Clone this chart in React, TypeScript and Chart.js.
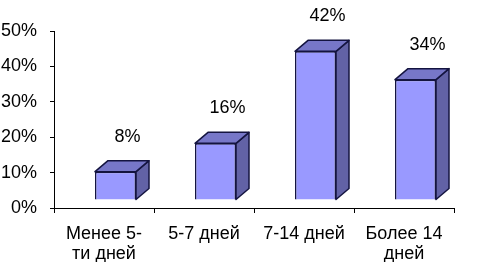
import React, { useEffect, useRef } from "react";
import { Chart, registerables } from "chart.js";

Chart.register(...registerables);

const categories: string[][] = [["Менее 5-", "ти дней"], ["5-7 дней"], ["7-14 дней"], ["Более 14", "дней"]];
const values: number[] = [8, 16, 42, 34];
const valueLabels: string[] = ["8%", "16%", "42%", "34%"];
const yTicks: number[] = [0, 10, 20, 30, 40, 50];

const FONT = "'Liberation Sans', Arial, sans-serif";
const FRONT = "#9999ff";
const TOP = "#7777c8";
const SIDE = "#6262a6";
const EDGE = "#141440";
const SHIFT_X = 11.5;
const SHIFT_Y = -8;
const DEPTH_X = 13;
const DEPTH_Y = 11;

const box3d = {
  id: "box3d",
  beforeDatasetsDraw(chart: any) {
    const ctx = chart.ctx;
    ctx.save();
    ctx.translate(SHIFT_X, SHIFT_Y);
    const meta = chart.getDatasetMeta(0);
    meta.data.forEach((el: any) => {
      const { x, y, base, width } = el.getProps(["x", "y", "base", "width"], true);
      const l = x - width / 2;
      const r = x + width / 2;
      ctx.lineWidth = 1.5;
      ctx.strokeStyle = EDGE;
      ctx.lineJoin = "round";
      // side
      ctx.beginPath();
      ctx.moveTo(r, y);
      ctx.lineTo(r + DEPTH_X, y - DEPTH_Y);
      ctx.lineTo(r + DEPTH_X, base - DEPTH_Y);
      ctx.lineTo(r, base);
      ctx.closePath();
      ctx.fillStyle = SIDE;
      ctx.fill();
      ctx.stroke();
      // top
      ctx.beginPath();
      ctx.moveTo(l, y);
      ctx.lineTo(l + DEPTH_X, y - DEPTH_Y);
      ctx.lineTo(r + DEPTH_X, y - DEPTH_Y);
      ctx.lineTo(r, y);
      ctx.closePath();
      ctx.fillStyle = TOP;
      ctx.fill();
      ctx.stroke();
    });
  },
  afterDatasetsDraw(chart: any) {
    const ctx = chart.ctx;
    ctx.restore();
    const meta = chart.getDatasetMeta(0);
    ctx.save();
    ctx.font = `18px ${FONT}`;
    ctx.fillStyle = "#000";
    ctx.textAlign = "center";
    ctx.textBaseline = "middle";
    meta.data.forEach((el: any, i: number) => {
      const { x, y } = el.getProps(["x", "y"], true);
      ctx.fillText(valueLabels[i], x + SHIFT_X + 12, y + SHIFT_Y - 35);
    });
    ctx.restore();
  },
};

export default function App() {
  const ref = useRef<HTMLCanvasElement>(null);
  useEffect(() => {
    if (!ref.current) return;
    const chart = new Chart(ref.current, {
      type: "bar",
      data: {
        labels: categories,
        datasets: [
          {
            data: values,
            backgroundColor: FRONT,
            borderColor: EDGE,
            borderWidth: 1.5,
            categoryPercentage: 1,
            barPercentage: 0.41,
            clip: false as any,
          },
        ],
      },
      options: {
        animation: false,
        responsive: false,
        maintainAspectRatio: false,
        layout: { padding: { top: 31, right: 41, bottom: 0, left: 0 } },
        plugins: { legend: { display: false }, tooltip: { enabled: false } },
        scales: {
          x: {
            offset: true,
            grid: { display: true, drawOnChartArea: false, drawTicks: true, tickLength: 5, offset: true, color: "#000" },
            border: { display: true, color: "#000", width: 1 },
            ticks: { color: "#000", font: { family: FONT, size: 18, lineHeight: 1.1 }, padding: 11, maxRotation: 0, autoSkip: false },
            afterFit: (s: any) => { s.height = 54; },
          },
          y: {
            min: 0,
            max: 50,
            afterBuildTicks: (s: any) => { s.ticks = yTicks.map((v) => ({ value: v })); },
            grid: { display: true, drawOnChartArea: false, drawTicks: true, tickLength: 4, color: "#000" },
            border: { display: true, color: "#000", width: 1 },
            ticks: { color: "#000", font: { family: FONT, size: 18 }, padding: 13, callback: (v: any) => `${v}%` },
            afterFit: (s: any) => { s.width = 54; },
          },
        },
      },
      plugins: [box3d],
    });
    return () => chart.destroy();
  }, []);
  return (
    <div style={{ position: "fixed", left: 0, top: 0, width: 495, height: 262, background: "#fff" }}>
      <canvas ref={ref} width={495} height={262} style={{ display: "block", width: 495, height: 262 }} />
    </div>
  );
}
